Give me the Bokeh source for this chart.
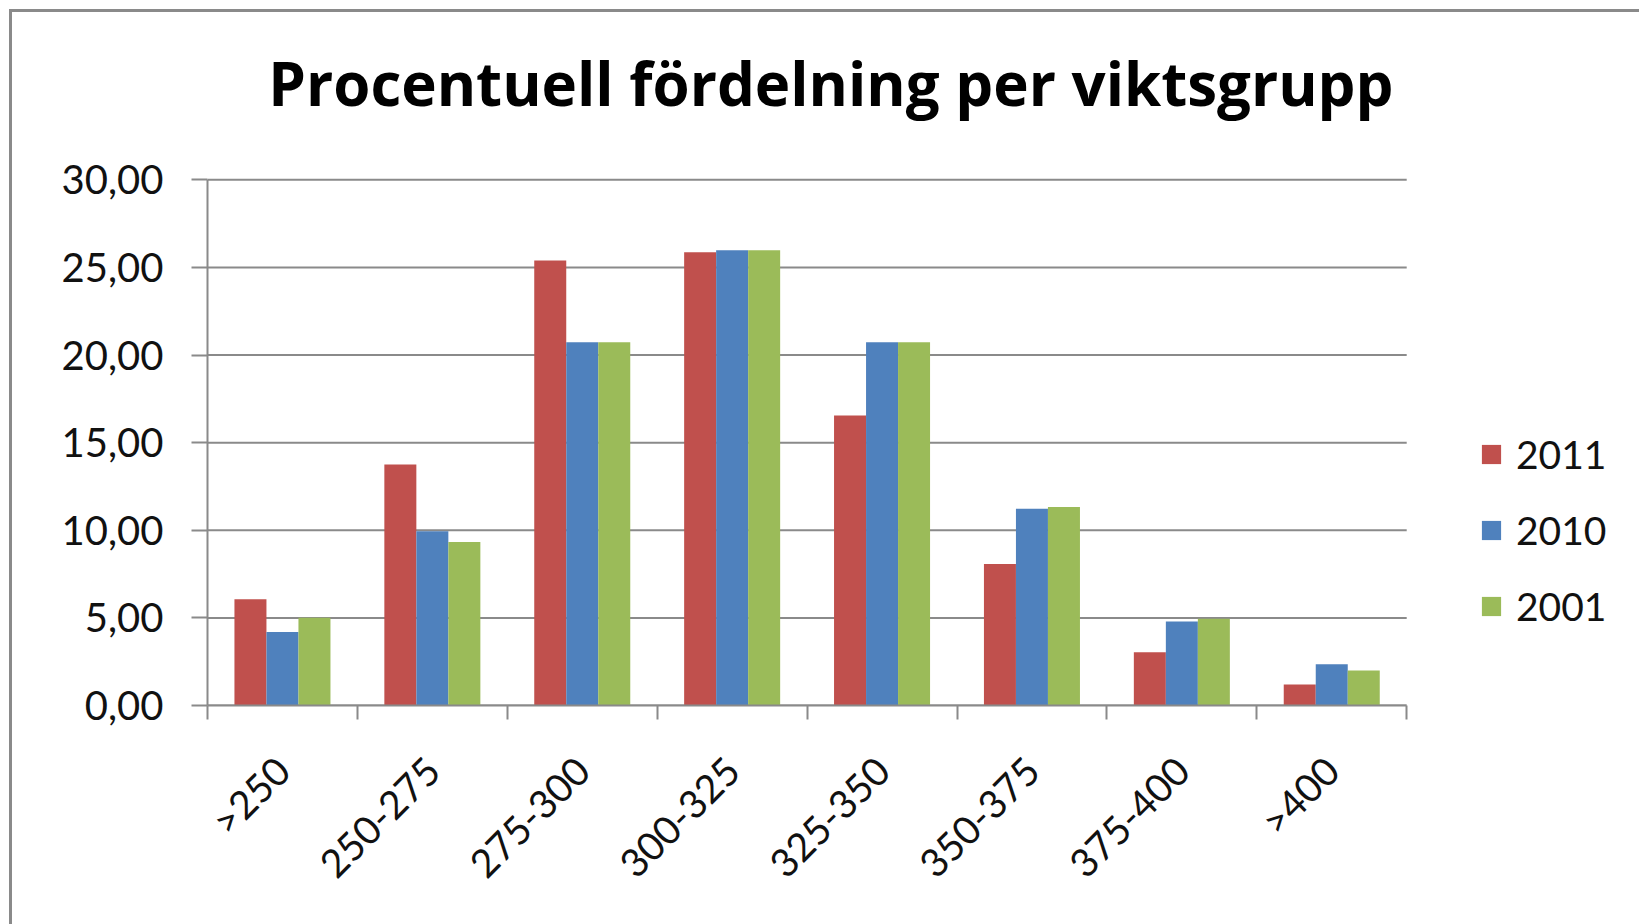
import math
from bokeh.plotting import figure
from bokeh.models import Range1d, FixedTicker, Legend, LegendItem, Label, ColumnDataSource, InlineStyleSheet
from bokeh.embed import file_html
from bokeh.resources import INLINE
from bokeh.transform import dodge

# ---- data ----
categories = [">250", "250-275", "275-300", "300-325", "325-350", "350-375", "375-400", ">400"]
years = ["2011", "2010", "2001"]
v2011 = [6.07, 13.76, 25.39, 25.86, 16.55, 8.07, 3.04, 1.20]
v2010 = [4.20, 9.94, 20.73, 25.98, 20.73, 11.23, 4.79, 2.36]
v2001 = [5.01, 9.33, 20.73, 25.98, 20.73, 11.33, 4.95, 2.00]
colors = ["#C0504D", "#4F81BD", "#9BBB59"]
yticks = [0, 5, 10, 15, 20, 25, 30]
ylabels = ["0,00", "5,00", "10,00", "15,00", "20,00", "25,00", "30,00"]
title_text = "Procentuell fördelning per viktsgrupp"

FONT = "Lato"
TITLE_FONT = "Open Sans"
GRAY = "#8a8a8a"

n = len(categories)
centers = [i + 0.5 for i in range(n)]
src = ColumnDataSource(dict(x=centers, y2011=v2011, y2010=v2010, y2001=v2001))

# frame covers the whole area right of the y axis and above the x axis,
# so that title and legend (drawn inside it) are not clipped
px_per_cat = 149.9
px_per_unit = 525.7 / 30.0
W, H = 1639, 924
left, bottom = 207, 219
x_end = (W - left) / px_per_cat
y_end = (H - bottom) / px_per_unit

p = figure(width=W, height=H, output_backend="svg", toolbar_location=None,
           x_range=Range1d(0, x_end), y_range=Range1d(0, y_end),
           min_border_left=left, min_border_right=0, min_border_top=0, min_border_bottom=bottom)
p.outline_line_color = None
p.background_fill_color = "white"
p.border_fill_color = "white"

# horizontal gridlines limited to the category span
p.xgrid.grid_line_color = None
p.ygrid.grid_line_color = None
p.segment(x0=[0] * len(yticks), x1=[n] * len(yticks), y0=yticks, y1=yticks,
          line_color=GRAY, line_width=2)

bw = 0.2135
renderers = []
for off, col, c in zip([-bw, 0.0, bw], ["y2011", "y2010", "y2001"], colors):
    r = p.vbar(x=dodge("x", off, range=p.x_range), top=col, width=bw, source=src,
               fill_color=c, line_color=None)
    renderers.append(r)

# y axis
p.yaxis.bounds = (yticks[0], yticks[-1])
p.yaxis.ticker = FixedTicker(ticks=yticks)
p.yaxis.major_label_overrides = {t: l for t, l in zip(yticks, ylabels)}
p.yaxis.axis_line_color = GRAY
p.yaxis.axis_line_width = 2
p.yaxis.major_tick_line_color = GRAY
p.yaxis.major_tick_line_width = 2
p.yaxis.major_tick_out = 16
p.yaxis.major_tick_in = 0
p.yaxis.minor_tick_line_color = None
p.yaxis.major_label_standoff = 28
p.yaxis.major_label_text_font = FONT
p.yaxis.major_label_text_font_size = "40px"
p.yaxis.major_label_text_color = "#111111"

# x axis
p.xaxis.bounds = (0, n)
p.xaxis.ticker = FixedTicker(ticks=centers, minor_ticks=list(range(n + 1)))
p.xaxis.major_label_overrides = {c: l for c, l in zip(centers, categories)}
p.xaxis.axis_line_color = GRAY
p.xaxis.axis_line_width = 2
p.xaxis.major_tick_line_color = None
p.xaxis.minor_tick_line_color = GRAY
p.xaxis.minor_tick_line_width = 2
p.xaxis.minor_tick_out = 14
p.xaxis.minor_tick_in = 0
p.xaxis.major_label_orientation = math.pi / 4
p.xaxis.major_label_standoff = 44
p.xaxis.major_label_text_font = FONT
p.xaxis.major_label_text_font_size = "39px"
p.xaxis.major_label_text_color = "#111111"

# title
p.add_layout(Label(x=4.159, y=35.5, text=title_text, text_align="center",
                   text_baseline="alphabetic", text_font=TITLE_FONT,
                   text_font_style="bold", text_font_size="60px", text_color="black"))

# legend
legend = Legend(items=[LegendItem(label=y, renderers=[r]) for y, r in zip(years, renderers)],
                location=(1272, 76), orientation="vertical",
                label_text_font=FONT, label_text_font_size="39px", label_text_color="#111111",
                glyph_width=24, glyph_height=24, label_height=46, label_standoff=13, spacing=30,
                padding=0, margin=0, border_line_color=None, background_fill_alpha=0)
p.add_layout(legend)

# outer chart frame (left/top border visible in the reference)
p.stylesheets = [InlineStyleSheet(css=""":host::after { content: ''; position: absolute;
 left: 9px; top: 9px; right: -20px; bottom: -20px; border: 3px solid #8a8a8a;
 pointer-events: none; }""")]

open("out.html", "w").write(file_html(p, INLINE))
